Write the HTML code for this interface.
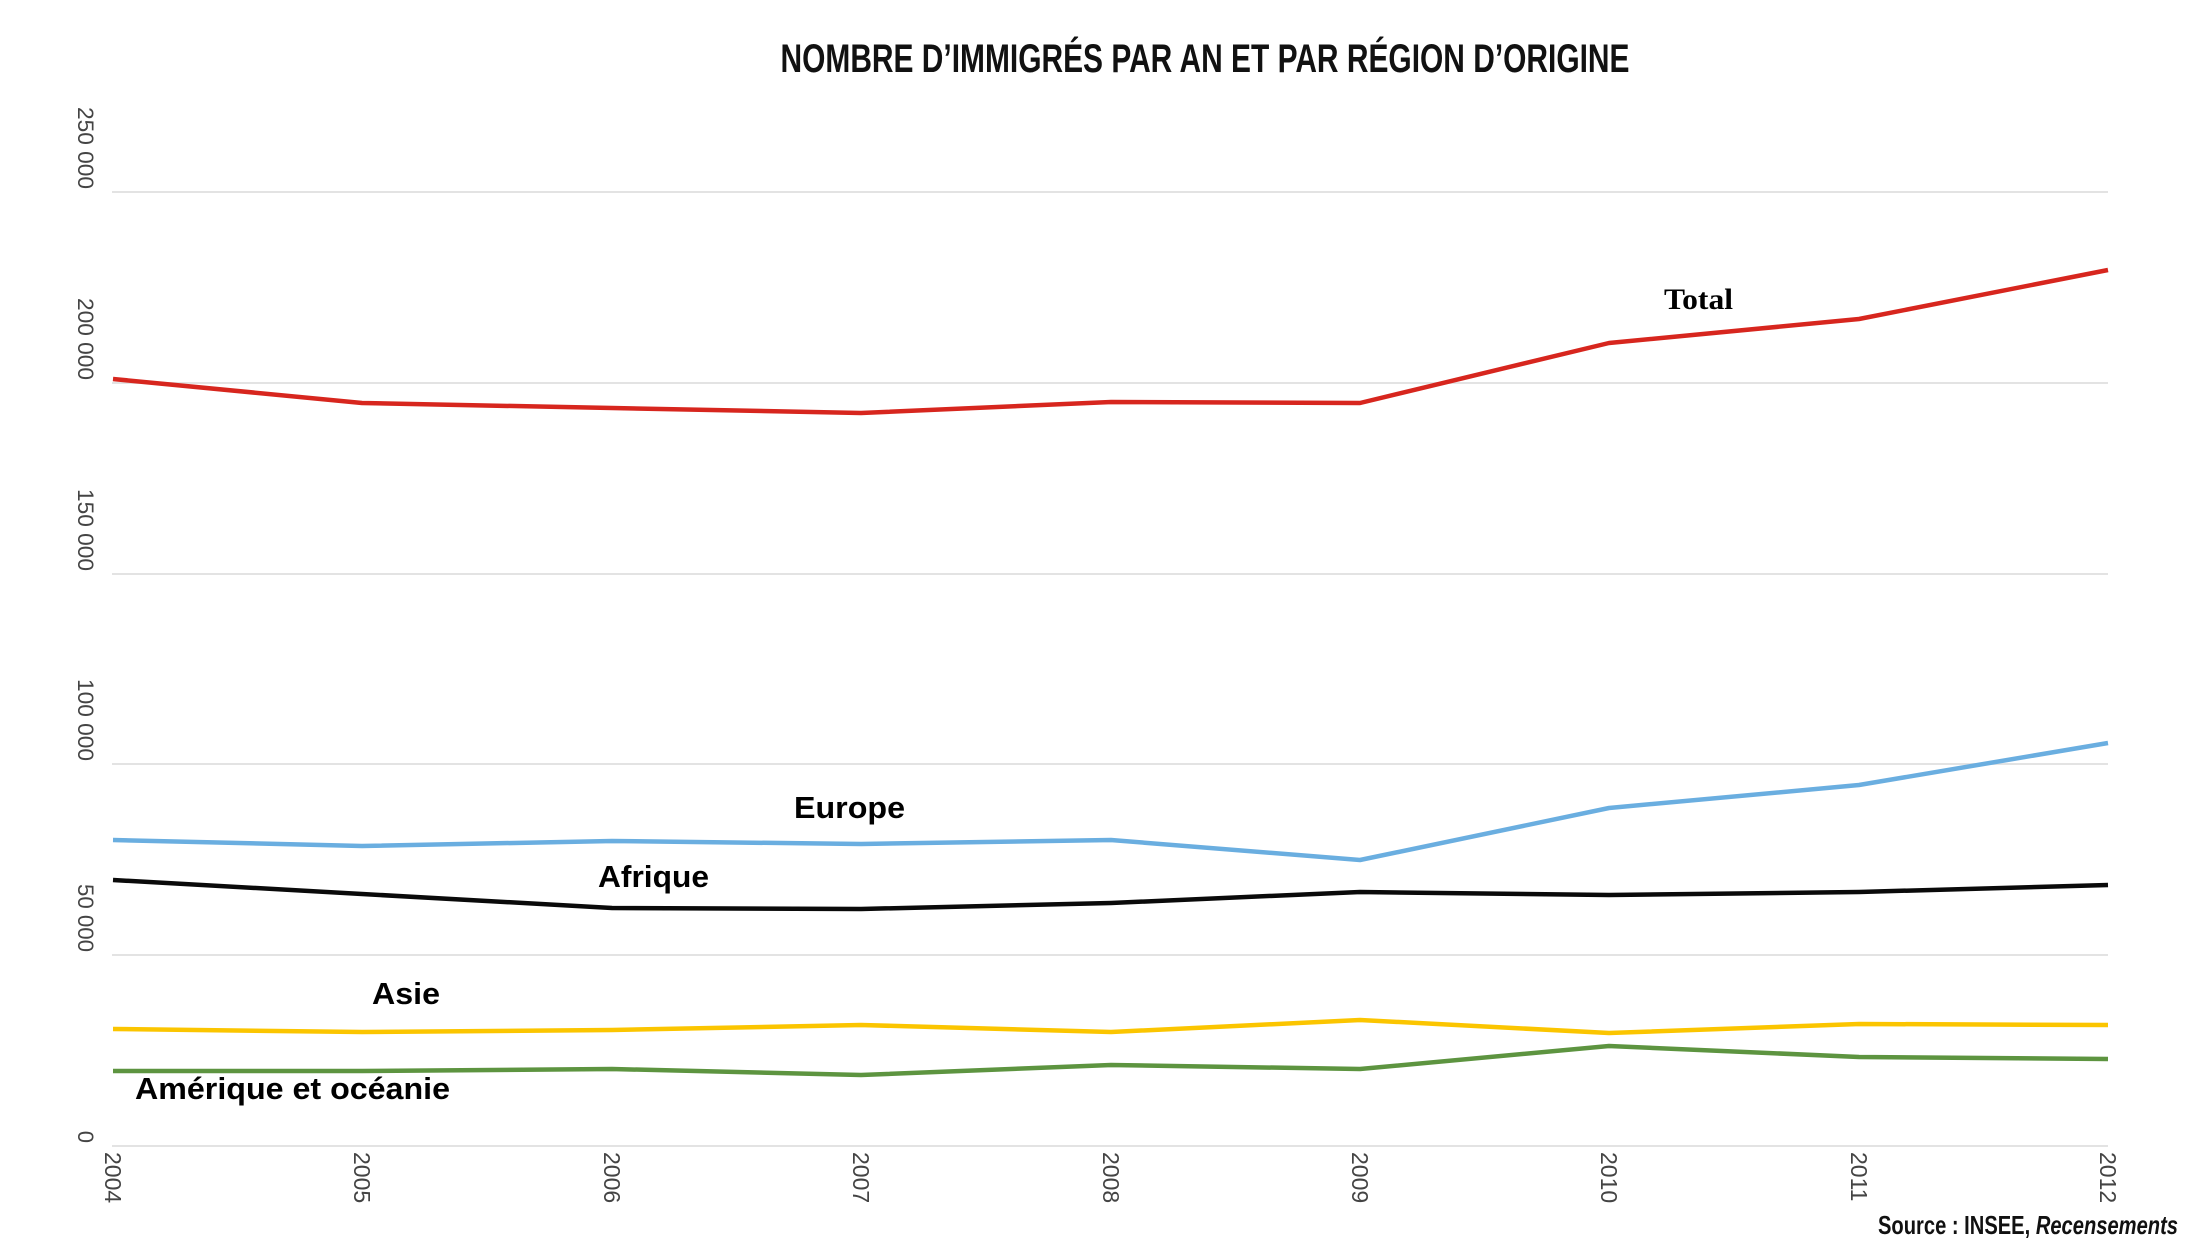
<!DOCTYPE html>
<html><head><meta charset="utf-8"><style>
html,body{margin:0;padding:0;background:#fff;}
svg{display:block;}
</style></head><body>
<svg width="2200" height="1246" viewBox="0 0 2200 1246" xmlns="http://www.w3.org/2000/svg">
<rect width="2200" height="1246" fill="#fff"/>
<text x="1205" y="72" text-anchor="middle" font-family="Liberation Sans Narrow, Liberation Sans, sans-serif" font-weight="bold" font-size="40" textLength="849" lengthAdjust="spacingAndGlyphs" fill="#111">NOMBRE D’IMMIGRÉS PAR AN ET PAR RÉGION D’ORIGINE</text>
<g stroke="#e3e3e3" stroke-width="2">
<line x1="112" y1="192" x2="2108" y2="192"/>
<line x1="112" y1="383" x2="2108" y2="383"/>
<line x1="112" y1="574" x2="2108" y2="574"/>
<line x1="112" y1="764" x2="2108" y2="764"/>
<line x1="112" y1="955" x2="2108" y2="955"/>
<line x1="112" y1="1146" x2="2108" y2="1146"/>
</g>
<g font-family="Liberation Sans, sans-serif" font-size="22" fill="#444">
<text transform="translate(78,189) rotate(90)" text-anchor="end" textLength="82" lengthAdjust="spacingAndGlyphs">250 000</text>
<text transform="translate(78,380) rotate(90)" text-anchor="end" textLength="82" lengthAdjust="spacingAndGlyphs">200 000</text>
<text transform="translate(78,571) rotate(90)" text-anchor="end" textLength="82" lengthAdjust="spacingAndGlyphs">150 000</text>
<text transform="translate(78,761) rotate(90)" text-anchor="end" textLength="82" lengthAdjust="spacingAndGlyphs">100 000</text>
<text transform="translate(78,952) rotate(90)" text-anchor="end" textLength="68" lengthAdjust="spacingAndGlyphs">50 000</text>
<text transform="translate(78,1143) rotate(90)" text-anchor="end">0</text>
</g>
<g font-family="Liberation Sans, sans-serif" font-size="23" fill="#444">
<text transform="translate(105,1152) rotate(90)">2004</text>
<text transform="translate(354,1152) rotate(90)">2005</text>
<text transform="translate(604,1152) rotate(90)">2006</text>
<text transform="translate(853,1152) rotate(90)">2007</text>
<text transform="translate(1103,1152) rotate(90)">2008</text>
<text transform="translate(1352,1152) rotate(90)">2009</text>
<text transform="translate(1601,1152) rotate(90)">2010</text>
<text transform="translate(1851,1152) rotate(90)">2011</text>
<text transform="translate(2100,1152) rotate(90)">2012</text>
</g>
<g fill="none" stroke-width="4.5" stroke-linejoin="round">
<polyline stroke="#d7261e" points="113,379 362,403 612,408 861,413 1111,402 1360,403 1609,343 1859,319 2108,270"/>
<polyline stroke="#6aaee0" points="113,840 362,846 612,841 861,844 1111,840 1360,860 1609,808 1859,785 2108,743"/>
<polyline stroke="#0a0a0a" points="113,880 362,894 612,908 861,909 1111,903 1360,892 1609,895 1859,892 2108,885"/>
<polyline stroke="#fbc500" points="113,1029 362,1032 612,1030 861,1025 1111,1032 1360,1020 1609,1033 1859,1024 2108,1025"/>
<polyline stroke="#5d9440" points="113,1071 362,1071 612,1069 861,1075 1111,1065 1360,1069 1609,1046 1859,1057 2108,1059"/>
</g>
<g font-weight="bold" fill="#000">
<text x="1664" y="309" font-family="Liberation Serif, serif" font-size="30" textLength="69" lengthAdjust="spacingAndGlyphs">Total</text>
<text x="794" y="818" font-family="Liberation Sans, sans-serif" font-size="31" textLength="111" lengthAdjust="spacingAndGlyphs">Europe</text>
<text x="598" y="887" font-family="Liberation Sans, sans-serif" font-size="31" textLength="111" lengthAdjust="spacingAndGlyphs">Afrique</text>
<text x="372" y="1004" font-family="Liberation Sans, sans-serif" font-size="31" textLength="68" lengthAdjust="spacingAndGlyphs">Asie</text>
<text x="135" y="1099" font-family="Liberation Sans, sans-serif" font-size="31" textLength="315" lengthAdjust="spacingAndGlyphs">Amérique et océanie</text>
</g>
<text x="2178" y="1234" text-anchor="end" font-family="Liberation Sans Narrow, Liberation Sans, sans-serif" font-weight="bold" font-size="26" textLength="300" lengthAdjust="spacingAndGlyphs" fill="#111">Source : INSEE, <tspan font-style="italic">Recensements</tspan></text>
</svg>
</body></html>
